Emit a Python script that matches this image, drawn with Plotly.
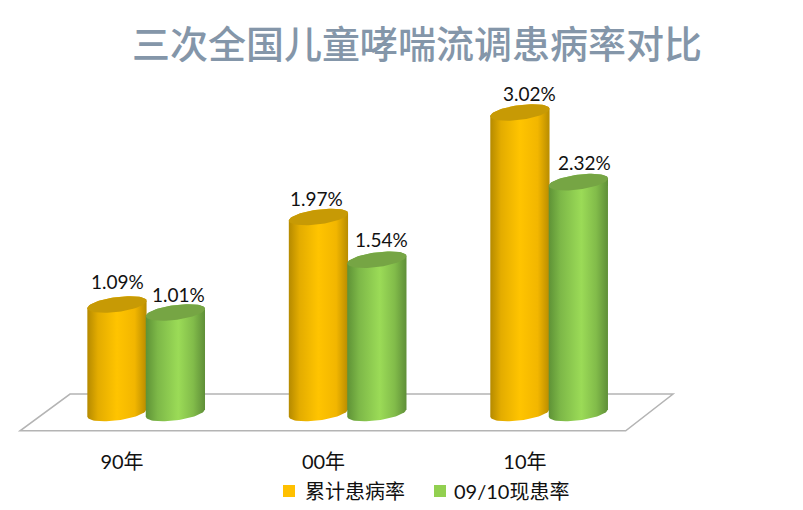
import numpy as np
import plotly.graph_objects as go

# Data
periods = ["90年", "00年", "10年"]
cumulative = [1.09, 1.97, 3.02]
current = [1.01, 1.54, 2.32]
cumulative_labels = ["1.09%", "1.97%", "3.02%"]
current_labels = ["1.01%", "1.54%", "2.32%"]
series_names = ["累计患病率", "09/10现患率"]

TITLE = "三次全国儿童哮喘流调患病率对比"
FONT = "Lato, 'Noto Sans CJK SC', sans-serif"

# The page body adds an 8px margin, so the figure is a bit smaller than the window
FIG_W = 795
FIG_H = 502
PAD = 8
PLOT_TOP = 62
PLOT_BOTTOM = 65

# Cylinder shape, in axis units
HALF_WIDTH = 0.147
CAP_HEIGHT = 0.075
CAP_TILT = 0.037
OFFSETS = [-0.025, 0.265]

# Hand placed nudges of the value labels, in pixels
CUMULATIVE_NUDGE = [(1, 23), (-2, 18), (10, 19)]
CURRENT_NUDGE = [(3, 18), (5, 20), (6, 20)]

ORANGE = dict(
    scale=[[0, "#B58A00"], [0.18, "#E3AC00"], [0.5, "#FFC400"], [0.8, "#F2B600"], [1, "#B88C00"]],
    cap="#C79A05",
    legend="#FFC000",
)
GREEN = dict(
    scale=[[0, "#5E9236"], [0.2, "#7DB848"], [0.55, "#9BDB57"], [0.8, "#82BC4A"], [1, "#5F8F38"]],
    cap="#76A544",
    legend="#92D050",
)

x_index = np.arange(len(periods))


def paper_x(px):
    return (px - PAD) / FIG_W


def paper_y(py):
    plot_h = FIG_H - PLOT_TOP - PLOT_BOTTOM
    return (FIG_H - PLOT_BOTTOM - (py - PAD)) / plot_h


def cap_outline(center, value, t):
    xs = center + HALF_WIDTH * np.cos(t)
    ys = value + CAP_HEIGHT * np.sin(t) + CAP_TILT * np.cos(t)
    return xs, ys


def add_cylinder(fig, center, value, style):
    bottom_x, bottom_y = cap_outline(center, 0, np.linspace(np.pi, 2 * np.pi, 40))
    top_x, top_y = cap_outline(center, value, np.linspace(0, np.pi, 40))
    fig.add_trace(go.Scatter(
        x=np.concatenate([bottom_x, top_x]),
        y=np.concatenate([bottom_y, top_y]),
        mode="lines",
        line=dict(width=0),
        fill="toself",
        fillgradient=dict(type="horizontal", colorscale=style["scale"]),
        showlegend=False,
        hoverinfo="skip",
    ))
    cap_x, cap_y = cap_outline(center, value, np.linspace(0, 2 * np.pi, 80))
    fig.add_trace(go.Scatter(
        x=cap_x,
        y=cap_y,
        mode="lines",
        line=dict(width=0),
        fill="toself",
        fillcolor=style["cap"],
        showlegend=False,
        hoverinfo="skip",
    ))


fig = go.Figure()

for i in x_index:
    add_cylinder(fig, i + OFFSETS[0], cumulative[i], ORANGE)
    add_cylinder(fig, i + OFFSETS[1], current[i], GREEN)

# Value labels
for offset, values, labels, nudges in [
    (OFFSETS[0], cumulative, cumulative_labels, CUMULATIVE_NUDGE),
    (OFFSETS[1], current, current_labels, CURRENT_NUDGE),
]:
    for i, (v, text) in enumerate(zip(values, labels)):
        fig.add_annotation(
            x=i + offset, y=v, text=text, showarrow=False,
            xshift=nudges[i][0], yshift=nudges[i][1],
            font=dict(family=FONT, size=19, color="#111111"),
        )

# Floor of the chart
floor = "M -0.258 0.19 L 2.735 0.19 L 2.50 -0.18 L -0.506 -0.18 Z"
fig.add_shape(
    type="path", path=floor, xref="x", yref="y", layer="below",
    line=dict(color="#B4B4B4", width=1.5), fillcolor="white",
)

# Legend, drawn by hand because the built-in one leaves too wide a gap after the marker
for name, style, marker_left, text_left in zip(
    series_names, [ORANGE, GREEN], [283, 434], [303, 452]
):
    fig.add_shape(
        type="rect", xref="paper", yref="paper",
        x0=paper_x(marker_left), x1=paper_x(marker_left + 12),
        y0=paper_y(497), y1=paper_y(485),
        fillcolor=style["legend"], line=dict(width=0),
    )
    fig.add_annotation(
        x=paper_x(text_left), y=paper_y(491), xref="paper", yref="paper",
        xanchor="left", yanchor="middle", text=name, showarrow=False,
        font=dict(family=FONT, size=20, color="#111111"),
    )

fig.update_layout(
    width=FIG_W,
    height=FIG_H,
    margin=dict(l=0, r=0, t=PLOT_TOP, b=PLOT_BOTTOM),
    paper_bgcolor="white",
    plot_bgcolor="white",
    font=dict(family=FONT, color="#111111"),
    showlegend=False,
    title=dict(
        text=TITLE, x=paper_x(417), xanchor="center", xref="paper",
        y=1 - (45 - PAD) / FIG_H, yanchor="middle",
        font=dict(family="'Noto Sans CJK SC', sans-serif", size=38, color="#8496A9", weight=500),
    ),
    xaxis=dict(
        range=[-0.5658, 3.380],
        tickmode="array",
        tickvals=x_index,
        ticktext=periods,
        tickfont=dict(family=FONT, size=20, color="#111111"),
        showgrid=False,
        zeroline=False,
        showline=False,
        ticks="",
        ticklabelstandoff=3,
    ),
    yaxis=dict(range=[-0.322, 3.447], visible=False, fixedrange=True),
)

fig.write_html("out.html")
